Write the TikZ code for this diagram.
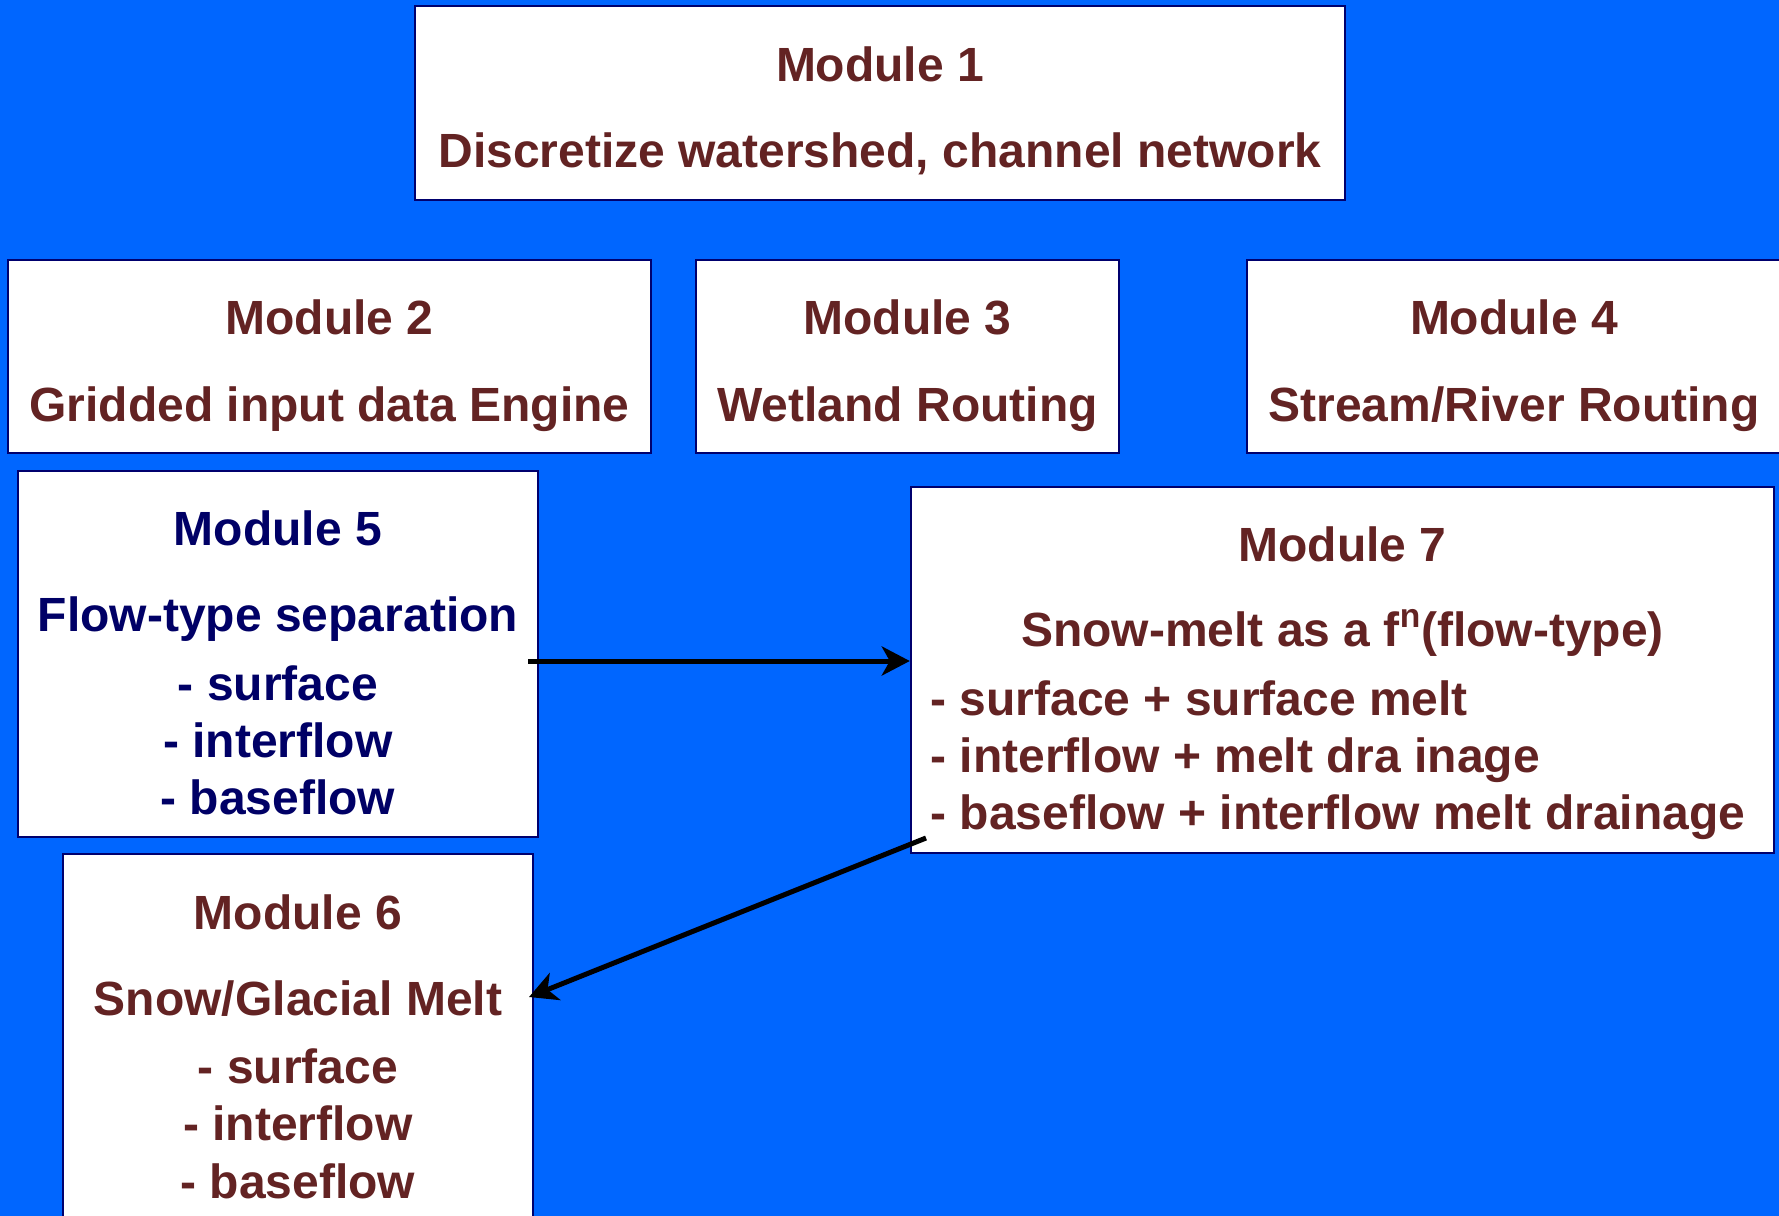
\documentclass[tikz,border=0pt]{standalone}
\usepackage{fontspec}
\setmainfont{Liberation Sans}
\usetikzlibrary{arrows.meta}
\definecolor{bg}{RGB}{0,102,255}
\definecolor{brn}{RGB}{99,35,35}
\definecolor{nvy}{RGB}{0,0,102}
\definecolor{bord}{RGB}{0,0,110}
\begin{document}
\begin{tikzpicture}[x=0.5pt,y=-0.5pt,
  box/.style={draw=bord, fill=white, line width=1.2pt, inner sep=0pt, rectangle},
  txt/.style={anchor=base, inner sep=0pt, font=\fontsize{24}{28}\selectfont\bfseries, text=brn},
  ltxt/.style={txt, anchor=base west},
  ntxt/.style={txt, text=nvy},
  conn/.style={line width=2.5pt, -{Stealth[length=14pt,width=14.5pt,inset=4pt]}}]
\useasboundingbox (0,0) rectangle (1779,1216);
\fill[bg] (0,0) rectangle (1779,1216);
\begin{scope}
\clip (0,0) rectangle (1779,1216);
% boxes
\node[box, minimum width=465pt, minimum height=97pt] (m1) at (880,103) {};
\node[box, minimum width=321.5pt, minimum height=96.5pt] (m2) at (329.5,356.5) {};
\node[box, minimum width=211.5pt, minimum height=96.5pt] (m3) at (907.5,356.5) {};
\node[box, minimum width=268pt, minimum height=96.5pt] (m4) at (1515,356.5) {};
\node[box, minimum width=260pt, minimum height=183pt] (m5) at (278,654) {};
\node[box, minimum width=431.5pt, minimum height=183pt] (m7) at (1342.5,670) {};
\node[box, minimum width=235pt, minimum height=188pt] (m6) at (298,1042) {};
\end{scope}
% Module 1
\node[txt] (t1a) at (880,81) {Module 1};
\node[txt] (t1b) at (880,167) {Discretize watershed, channel network};
% Module 2
\node[txt] (t2a) at (329.5,334) {Module 2};
\node[txt] (t2b) at (329.5,421) {Gridded input data Engine};
% Module 3
\node[txt] (t3a) at (907.5,334) {Module 3};
\node[txt] (t3b) at (907.5,421) {Wetland Routing};
% Module 4
\node[txt] (t4a) at (1514,334) {Module 4};
\node[txt] (t4b) at (1514,421) {Stream/River Routing};
% Module 5
\node[ntxt] (t5a) at (278,545) {Module 5};
\node[ntxt] (t5b) at (278,631) {Flow-type separation};
\node[ntxt] (t5c) at (278,700) {- surface};
\node[ntxt] (t5d) at (278,757) {- interflow};
\node[ntxt] (t5e) at (278,814) {- baseflow};
% Module 7
\node[txt] (t7a) at (1342.5,561) {Module 7};
\node[txt] (t7b) at (1342.5,646) {Snow-melt as a f\textsuperscript{n}(flow-type)};
\node[ltxt] (t7c) at (930,715) {- surface + surface melt};
\node[ltxt] (t7d) at (930,772) {- interflow + melt dra inage};
\node[ltxt] (t7e) at (930,829) {- baseflow + interflow melt drainage};
% Module 6
\node[txt] (t6a) at (298,929) {Module 6};
\node[txt] (t6b) at (298,1015) {Snow/Glacial Melt};
\node[txt] (t6c) at (298,1083) {- surface};
\node[txt] (t6d) at (298,1140) {- interflow};
\node[txt] (t6e) at (298,1198) {- baseflow};
% connectors
\coordinate (a1) at (528,661);
\coordinate (a2) at (926,838);
\coordinate (b2) at (529,997);
\draw[conn] (a1) -- (a1 -| m7.west);
\draw[conn] (a2) -- (b2);
\end{tikzpicture}
\end{document}
